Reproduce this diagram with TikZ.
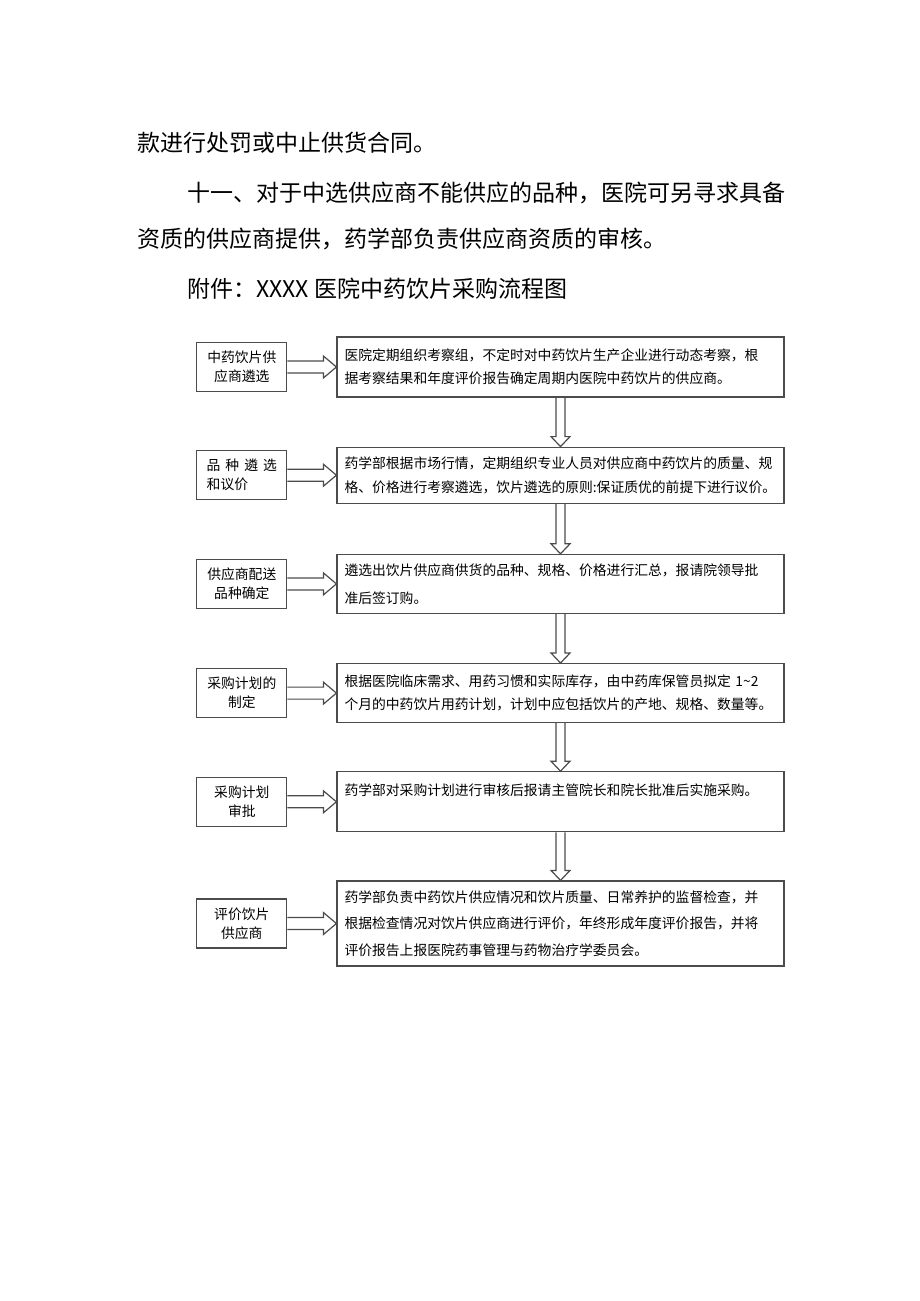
\documentclass[tikz,border=0pt]{standalone}
\usepackage{fontspec}
\setmainfont{Noto Sans CJK SC}
\usepackage{tikz}
\usetikzlibrary{positioning, calc}

\begin{document}
\begin{tikzpicture}[x=1pt, y=-1pt, thick, node distance=49pt,
    box/.style={rectangle, draw=black!70, line width=1.2pt, minimum width=447pt, text width=432pt, inner xsep=7.5pt, align=left, font=\fontsize{13.8}{23.5}\selectfont},
    tag/.style={rectangle, draw=black!70, line width=1.2pt, minimum width=90pt, minimum height=49pt, inner sep=2pt, align=center, font=\fontsize{13.8}{19}\selectfont},
    para/.style={anchor=west, inner sep=0pt, font=\fontsize{23}{27}\selectfont},
    toright/.style={draw=black!70, line width=1.2pt, to path={let \p1=(\tikztostart), \p2=(\tikztotarget) in
        (\x1,\y1+6pt) -- (\x2-13pt,\y1+6pt) -- (\x2-13pt,\y1+11pt) -- (\x2,\y1) -- (\x2-13pt,\y1-11pt) -- (\x2-13pt,\y1-6pt) -- (\x1,\y1-6pt)}},
    todown/.style={draw=black!70, line width=1.2pt, to path={let \p1=(\tikztostart), \p2=(\tikztotarget) in
        (\x1-4.5pt,\y1) -- (\x1-4.5pt,\y2+10pt) -- (\x1-9.5pt,\y2+10pt) -- (\x1,\y2) -- (\x1+9.5pt,\y2+10pt) -- (\x1+4.5pt,\y2+10pt) -- (\x1+4.5pt,\y1)}}]

    \fill[white] (0,0) rectangle (920,1301);
    \useasboundingbox (0,0) rectangle (920,1301);

    % text above the chart
    \node (para1) [para] at (137,143) {款进行处罚或中止供货合同。};
    \node (para2) [para] at (187,193) {十一、对于中选供应商不能供应的品种，医院可另寻求具备};
    \node (para3) [para] at (137,239) {资质的供应商提供，药学部负责供应商资质的审核。};
    \node (para4) [para] at (187,289) {附件：XXXX 医院中药饮片采购流程图};

    % steps
    \node (Select) [box, minimum height=60pt] at (560.5,367) {医院定期组织考察组，不定时对中药饮片生产企业进行动态考察，根\\据考察结果和年度评价报告确定周期内医院中药饮片的供应商。};
    \node (Price) [box, minimum height=56pt, below=49pt of Select] {药学部根据市场行情，定期组织专业人员对供应商中药饮片的质量、规\\格、价格进行考察遴选，饮片遴选的原则:保证质优的前提下进行议价。};
    \node (Confirm) [box, minimum height=59pt, below=50pt of Price, font=\fontsize{13.8}{28}\selectfont] {遴选出饮片供应商供货的品种、规格、价格进行汇总，报请院领导批\\准后签订购。};
    \node (Plan) [box, minimum height=59pt, below=49pt of Confirm] {根据医院临床需求、用药习惯和实际库存，由中药库保管员拟定 1\textasciitilde 2\\个月的中药饮片用药计划，计划中应包括饮片的产地、规格、数量等。};
    \node (Approve) [box, minimum height=60pt, below=48pt of Plan] {药学部对采购计划进行审核后报请主管院长和院长批准后实施采购。\\~};
    \node (Review) [box, minimum height=85pt, below=48pt of Approve, font=\fontsize{13.8}{26.5}\selectfont] {药学部负责中药饮片供应情况和饮片质量、日常养护的监督检查，并\\根据检查情况对饮片供应商进行评价，年终形成年度评价报告，并将\\评价报告上报医院药事管理与药物治疗学委员会。};

    % labels on the left
    \node (SelectTag) [tag, left=49pt of Select] {中药饮片供\\应商遴选};
    \node (PriceTag) [tag, left=49pt of Price, align=left] {品\hspace{5pt}种\hspace{5pt}遴\hspace{5pt}选\\和议价};
    \node (ConfirmTag) [tag, left=49pt of Confirm] {供应商配送\\品种确定};
    \node (PlanTag) [tag, left=49pt of Plan] {采购计划的\\制定};
    \node (ApproveTag) [tag, left=49pt of Approve] {采购计划\\审批};
    \node (ReviewTag) [tag, left=49pt of Review] {评价饮片\\供应商};

    \draw[toright] (SelectTag.east) to (Select.west);
    \draw[toright] (PriceTag.east) to (Price.west);
    \draw[toright] (ConfirmTag.east) to (Confirm.west);
    \draw[toright] (PlanTag.east) to (Plan.west);
    \draw[toright] (ApproveTag.east) to (Approve.west);
    \draw[toright] (ReviewTag.east) to (Review.west);

    \draw[todown] (Select.south) to (Price.north);
    \draw[todown] (Price.south) to (Confirm.north);
    \draw[todown] (Confirm.south) to (Plan.north);
    \draw[todown] (Plan.south) to (Approve.north);
    \draw[todown] (Approve.south) to (Review.north);
\end{tikzpicture}
\end{document}
